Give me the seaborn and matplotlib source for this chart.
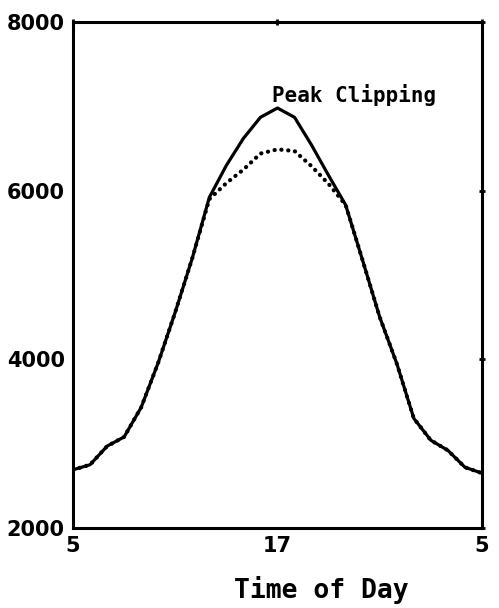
import numpy as np
import pandas as pd
import matplotlib
matplotlib.use("Agg")
import matplotlib.pyplot as plt
import seaborn as sns

# hours from 5 am to 5 am next day
hours = list(range(5, 30))

# original load curve (solid)
base_load = [2690, 2750, 2970, 3080, 3430, 3960, 4560, 5200, 5920, 6300,
             6620, 6870, 6980, 6870, 6540, 6180, 5830, 5170, 4500, 3950,
             3300, 3040, 2920, 2720, 2650]

# load after peak clipping (dotted)
clipped_load = [2690, 2750, 2970, 3080, 3430, 3960, 4560, 5200, 5900, 6090,
                6250, 6440, 6490, 6470, 6290, 6080, 5830, 5170, 4500, 3950,
                3300, 3040, 2920, 2720, 2650]

x_ticks = [5, 17, 29]
x_tick_labels = ["5", "17", "5"]
y_ticks = [2000, 4000, 6000, 8000]

df = pd.DataFrame({"hour": hours, "base": base_load, "clipped": clipped_load})

sns.set_style("white")
plt.rcParams["font.family"] = ["DejaVu Sans"]
plt.rcParams["text.color"] = "black"
plt.rcParams["axes.labelcolor"] = "black"
plt.rcParams["xtick.color"] = "black"
plt.rcParams["ytick.color"] = "black"

fig = plt.figure(figsize=(4.99, 6.08), dpi=100)
ax = fig.add_axes([0.1463, 0.1316, 0.8196, 0.8322])

sns.lineplot(data=df, x="hour", y="base", ax=ax, color="black", linewidth=2.3)
sns.lineplot(data=df, x="hour", y="clipped", ax=ax, color="black", linewidth=3.0)
dotted = ax.lines[-1]
dotted.set_linestyle((0, (0.05, 1.6)))
dotted.set_dash_capstyle("round")

ax.set_xlim(5, 29)
ax.set_ylim(2000, 8000)
ax.set_xticks(x_ticks)
ax.set_xticklabels(x_tick_labels)
ax.set_yticks(y_ticks)

for s in ax.spines.values():
    s.set_linewidth(2.2)
    s.set_color("black")

ax.tick_params(axis="both", which="both", direction="inout", length=4, width=2,
               top=True, right=True, labelsize=15, pad=4)
for lab in ax.get_xticklabels() + ax.get_yticklabels():
    lab.set_fontweight("bold")

ax.set_xlabel("Time of Day", fontsize=19, fontweight="bold",
              family="DejaVu Sans Mono", x=0.606, labelpad=14)
ax.set_ylabel("")

ax.text(21.5, 7140, "Peak Clipping", ha="center", va="center", fontsize=15,
        fontweight="bold", family="DejaVu Sans Mono")

fig.savefig("out.png", dpi=100, facecolor="white")
